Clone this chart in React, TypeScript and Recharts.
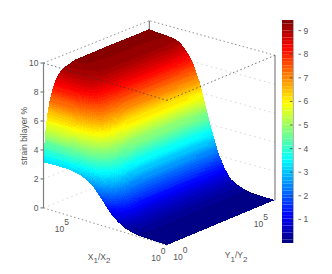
import { ScatterChart, Scatter, XAxis, YAxis, BarChart, Bar, ReferenceArea } from "recharts"

// fraction along each log axis, measured from the front corner
const yRatioStops = [0, 0.01, 0.02, 0.04, 0.06, 0.09, 0.12, 0.16, 0.2, 0.3, 0.45, 0.6, 0.8, 1]
const xRatioStops = [0, 0.1, 0.2, 0.25, 0.3, 0.35, 0.4, 0.45, 0.5, 0.55, 0.6, 0.65, 0.7, 0.75, 0.8, 0.85, 0.9, 0.95, 1]

// strain, one row per yRatioStops entry
const strain = [
    [0.02, 0.03, 0.05, 0.09, 0.19, 0.32, 0.6, 0.95, 1.48, 2.02, 2.52, 2.84, 3.02, 3.13, 3.18, 3.18, 3.18, 3.17, 3.15],
    [0.02, 0.03, 0.06, 0.12, 0.23, 0.38, 0.74, 1.22, 1.94, 2.7, 3.44, 3.94, 4.23, 4.43, 4.5, 4.5, 4.5, 4.5, 4.5],
    [0.02, 0.03, 0.07, 0.14, 0.27, 0.46, 0.89, 1.46, 2.32, 3.24, 4.13, 4.73, 5.08, 5.32, 5.4, 5.4, 5.4, 5.4, 5.4],
    [0.02, 0.03, 0.09, 0.17, 0.33, 0.56, 1.08, 1.77, 2.82, 3.93, 5.01, 5.73, 6.16, 6.45, 6.55, 6.55, 6.55, 6.55, 6.55],
    [0.02, 0.03, 0.09, 0.19, 0.37, 0.62, 1.2, 1.97, 3.14, 4.38, 5.58, 6.39, 6.86, 7.19, 7.3, 7.3, 7.3, 7.3, 7.3],
    [0.02, 0.03, 0.1, 0.21, 0.4, 0.68, 1.33, 2.17, 3.46, 4.83, 6.16, 7.04, 7.57, 7.93, 8.05, 8.05, 8.05, 8.05, 8.05],
    [0.02, 0.03, 0.11, 0.22, 0.43, 0.73, 1.42, 2.32, 3.7, 5.16, 6.58, 7.53, 8.08, 8.47, 8.6, 8.6, 8.6, 8.6, 8.6],
    [0.02, 0.03, 0.11, 0.22, 0.4, 0.7, 1.35, 2.29, 3.68, 5.21, 6.74, 7.72, 8.35, 8.8, 8.89, 8.94, 8.98, 8.98, 8.98],
    [0.02, 0.02, 0.09, 0.2, 0.37, 0.64, 1.28, 2.2, 3.57, 5.12, 6.68, 7.78, 8.46, 8.92, 9.01, 9.06, 9.1, 9.12, 9.15],
    [0.02, 0.02, 0.09, 0.2, 0.37, 0.64, 1.29, 2.22, 3.62, 5.2, 6.8, 7.93, 8.63, 9.1, 9.2, 9.26, 9.3, 9.33, 9.36],
    [0.02, 0.02, 0.09, 0.2, 0.37, 0.64, 1.29, 2.22, 3.62, 5.2, 6.8, 7.93, 8.63, 9.1, 9.21, 9.27, 9.31, 9.35, 9.38],
    [0.02, 0.02, 0.09, 0.2, 0.37, 0.64, 1.29, 2.22, 3.62, 5.2, 6.8, 7.93, 8.63, 9.1, 9.22, 9.28, 9.32, 9.36, 9.4],
    [0.02, 0.02, 0.09, 0.2, 0.37, 0.64, 1.28, 2.22, 3.62, 5.2, 6.8, 7.93, 8.63, 9.1, 9.23, 9.28, 9.32, 9.36, 9.4],
    [0.02, 0.02, 0.09, 0.2, 0.36, 0.62, 1.25, 2.18, 3.58, 5.15, 6.75, 7.88, 8.58, 9.05, 9.25, 9.3, 9.34, 9.37, 9.42],
]

const strainTicks = [0, 2, 4, 6, 8, 10]
const colorbarTicks = [1, 2, 3, 4, 5, 6, 7, 8, 9]
const logTicks = [0, 5]
const COLOR_MAX = 9.45
const X_LOG_MAX = 6.4
const Y_LOG_MAX = 6.7

const WIDTH = 332
const HEIGHT = 274
const PLOT_LEFT = 43.5
const Y_DOMAIN: [number, number] = [-4.56, 14.35]
const KY = HEIGHT / (Y_DOMAIN[1] - Y_DOMAIN[0])
const FONT = "'Liberation Sans', Arial, sans-serif"
const TEXT = "#555555"

// oblique view of the box, the left wall corner is the origin
const project = (u: number, v: number, z: number) => ({
    x: 123.5 * (1 - v) + 108 * u - 2.2 * u * v,
    y: z + 3.11 * u + 2.578 * v - 2.578 - 0.187 * u * v,
})

// matlab jet, 64 flat levels
const jetColor = (value: number) => {
    const level = Math.min(63, Math.max(0, Math.floor((value / COLOR_MAX) * 64)))
    const t = (level + 0.5) / 64
    const ch = (c: number) => Math.round(255 * Math.min(1, Math.max(0, 1.5 - Math.abs(4 * t - c))))
    return `rgb(${ch(3)},${ch(2)},${ch(1)})`
}

const cells: { x: number; y: number; i: number; j: number }[] = []
for (let j = xRatioStops.length - 2; j >= 0; j--) {
    for (let i = yRatioStops.length - 2; i >= 0; i--) {
        cells.push({ ...project(yRatioStops[i], xRatioStops[j], strain[i][j]), i, j })
    }
}

const SUB_U = 6
const SUB_V = 12

const SurfaceCell = (props: any) => {
    const { cx, cy, payload } = props
    const { i, j } = payload
    const u0 = yRatioStops[i]
    const u1 = yRatioStops[i + 1]
    const v0 = xRatioStops[j]
    const v1 = xRatioStops[j + 1]
    const at = (a: number, b: number) => {
        const z =
            (1 - a) * (1 - b) * strain[i][j] +
            a * (1 - b) * strain[i + 1][j] +
            (1 - a) * b * strain[i][j + 1] +
            a * b * strain[i + 1][j + 1]
        const p = project(u0 + (u1 - u0) * a, v0 + (v1 - v0) * b, z)
        return { z, px: cx + (p.x - payload.x), py: cy - (p.y - payload.y) * KY }
    }
    const polys = []
    for (let b = SUB_V - 1; b >= 0; b--) {
        for (let a = SUB_U - 1; a >= 0; a--) {
            const c = [
                at(a / SUB_U, b / SUB_V),
                at((a + 1) / SUB_U, b / SUB_V),
                at((a + 1) / SUB_U, (b + 1) / SUB_V),
                at(a / SUB_U, (b + 1) / SUB_V),
            ]
            polys.push(
                <polygon
                    key={`${a}-${b}`}
                    points={c.map((p) => `${p.px},${p.py}`).join(" ")}
                    fill={jetColor((c[0].z + c[1].z + c[2].z + c[3].z) / 4)}
                    shapeRendering="crispEdges"
                />
            )
        }
    }
    return <g>{polys}</g>
}

const noDot = () => null

const Edge = (from: number[], to: number[], stroke: string, dash: string | undefined, key: string, width = 1) => (
    <Scatter
        key={key}
        data={[project(from[0], from[1], from[2]), project(to[0], to[1], to[2])]}
        line={{ stroke, strokeWidth: dash ? 0.7 : width, strokeDasharray: dash }}
        shape={noDot}
        isAnimationActive={false}
    />
)

const DOT = "1.5 2.5"
const WALL = "#c4c4c4"
const WALL_DOT = "1.5 3.5"
const BOX = "#666666"

const LogTick = (props: any) => {
    const { cx, cy, payload } = props
    return (
        <g fontFamily={FONT} fontSize={8.5} fill={TEXT}>
            <text x={cx + payload.dx} y={cy + payload.dy} textAnchor="middle">10</text>
            <text x={cx + payload.dx + 7} y={cy + payload.dy - 7} textAnchor="middle">{payload.exp}</text>
        </g>
    )
}

const xLogTicks = logTicks.map((t) => ({ ...project(0, t / X_LOG_MAX, 0), exp: t, dx: -11, dy: 16 }))
const yLogTicks = logTicks.map((t) => ({ ...project(t / Y_LOG_MAX, 0, 0), exp: t, dx: 11, dy: 15 }))

const AxisLabel = (props: any) => {
    const { cx, cy, payload } = props
    return (
        <text x={cx} y={cy + payload.dy} fontFamily={FONT} fontSize={8.5} fill={TEXT} textAnchor="middle">
            {payload.a}
            <tspan dy={3.5} fontSize={8}>1</tspan>
            <tspan dy={-3.5}>/{payload.a}</tspan>
            <tspan dy={3.5} fontSize={8}>2</tspan>
        </text>
    )
}

const levels = Array.from({ length: 64 }, (_, k) => k)
const colorbarRow: Record<string, number | string> = { name: "strain" }
levels.forEach((k) => {
    colorbarRow[`l${k}`] = COLOR_MAX / 64
})

const ColorbarTick = (props: any) => {
    const { x, y, payload } = props
    return (
        <g>
            <line x1={x - 11} x2={x - 8.5} y1={y} y2={y} stroke="#333" strokeWidth={0.7} />
            <line x1={x - 2.5} x2={x} y1={y} y2={y} stroke="#333" strokeWidth={0.7} />
            <text x={x + 2.5} y={y + 3} fontFamily={FONT} fontSize={8.5} fill={TEXT}>{payload.value}</text>
        </g>
    )
}

export default function App() {
    const backEdges = [
        Edge([0, 1, 0], [1, 1, 0], WALL, WALL_DOT, "b1"),
        Edge([1, 0, 0], [1, 1, 0], WALL, WALL_DOT, "b2"),
        Edge([1, 1, 0], [1, 1, 10], BOX, undefined, "b3"),
        ...strainTicks.slice(1, 5).flatMap((z) => [
            Edge([0, 1, z], [1, 1, z], WALL, WALL_DOT, `wl${z}`),
            Edge([1, 0, z], [1, 1, z], WALL, WALL_DOT, `wr${z}`),
        ]),
    ]
    const frontEdges = [
        Edge([0, 1, 10], [1, 1, 10], BOX, DOT, "f1"),
        Edge([1, 0, 10], [1, 1, 10], BOX, DOT, "f2"),
        Edge([0, 1, 10], [0, 0, 10], "#333333", DOT, "f3"),
        Edge([1, 0, 10], [0, 0, 10], "#333333", DOT, "f4"),
        Edge([0, 1, 0], [0, 1, 10], "#808080", undefined, "f5", 1.2),
        Edge([1, 0, 0], [1, 0, 10], "#808080", undefined, "f6", 1.2),
        Edge([0, 1, 0], [0, 0, 0], BOX, DOT, "f7"),
    ]

    return (
        <div style={{ position: "absolute", left: 0, top: 0, width: WIDTH, height: HEIGHT, background: "#fff" }}>
            <ScatterChart width={WIDTH} height={HEIGHT} margin={{ top: 0, right: 0, bottom: 0, left: 0 }}>
                <XAxis type="number" dataKey="x" domain={[0, WIDTH - PLOT_LEFT]} hide height={0} />
                <YAxis
                    type="number"
                    dataKey="y"
                    domain={Y_DOMAIN}
                    width={PLOT_LEFT}
                    ticks={strainTicks}
                    interval={0}
                    axisLine={false}
                    tickSize={3}
                    tickMargin={2}
                    tickLine={{ stroke: "#666" }}
                    tick={{ fontSize: 8.5, fontFamily: FONT, fill: TEXT }}
                    label={{
                        value: "strain bilayer %",
                        angle: -90,
                        position: "insideLeft",
                        offset: 24,
                        dy: 28,
                        style: { fontSize: 8.5, fontFamily: FONT, fill: TEXT },
                    }}
                />
                {backEdges}
                <Scatter data={cells} shape={SurfaceCell} isAnimationActive={false} />
                {frontEdges}
                <Scatter data={xLogTicks} shape={LogTick} isAnimationActive={false} />
                <Scatter data={yLogTicks} shape={LogTick} isAnimationActive={false} />
                <Scatter data={[{ ...project(0, 0.55, 0), a: "X", dy: 35 }]} shape={AxisLabel} isAnimationActive={false} />
                <Scatter data={[{ ...project(0.64, 0, 0), a: "Y", dy: 42 }]} shape={AxisLabel} isAnimationActive={false} />
            </ScatterChart>
            <div style={{ position: "absolute", left: 282, top: 20 }}>
                <BarChart
                    width={50}
                    height={223}
                    data={[colorbarRow]}
                    margin={{ top: 0, right: 0, bottom: 0, left: 0 }}
                    barCategoryGap={0}
                >
                    <XAxis dataKey="name" hide height={0} />
                    <YAxis
                        orientation="right"
                        width={39}
                        domain={[0, COLOR_MAX]}
                        ticks={colorbarTicks}
                        interval={0}
                        axisLine={false}
                        tickLine={false}
                        tick={ColorbarTick}
                    />
                    {levels.map((k) => (
                        <Bar
                            key={k}
                            dataKey={`l${k}`}
                            stackId="bar"
                            fill={jetColor((k + 0.5) * (COLOR_MAX / 64))}
                            isAnimationActive={false}
                        />
                    ))}
                    <ReferenceArea y1={0} y2={COLOR_MAX} fill="none" stroke="#808080" strokeWidth={1.2} />
                </BarChart>
            </div>
        </div>
    )
}
